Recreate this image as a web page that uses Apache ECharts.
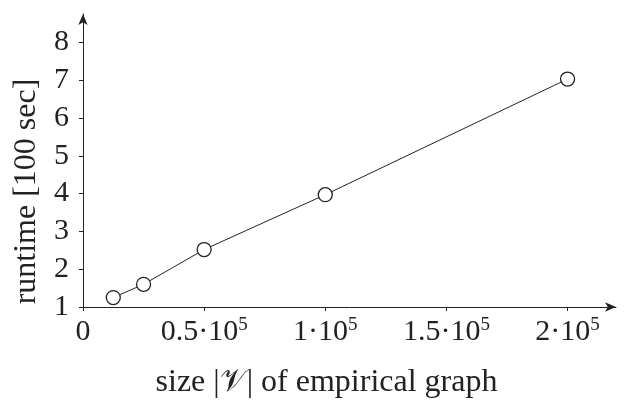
<!DOCTYPE html>
<html>
<head>
<meta charset="utf-8">
<script src="https://cdn.jsdelivr.net/npm/echarts@6/dist/echarts.min.js"></script>
<style>
  html, body { margin: 0; padding: 0; background: #fff; }
  #chart { width: 630px; height: 405px; }
</style>
</head>
<body>
<div id="chart"></div>
<script>
const sizes = [12500, 25000, 50000, 100000, 200000];
const runtimes = [1.25, 1.6, 2.52, 3.97, 7.03];
const xTicks = [0, 50000, 100000, 150000, 200000];
const yTicks = [1, 2, 3, 4, 5, 6, 7, 8];

const FONT = "Liberation Serif";
const INK = "#222";

const chart = echarts.init(document.getElementById("chart"));

function xLabel(v) {
  if (v === 0) return "{m|0}";
  const m = v / 100000;
  return "{m|" + m + "·10}{s|5}";
}

chart.setOption({
  animation: false,
  grid: { left: 83, right: 14, top: 14, bottom: 98 },
  xAxis: {
    type: "value",
    min: 0,
    max: 220000,
    name: "size |𝒱| of empirical graph",
    nameLocation: "middle",
    nameGap: 60,
    nameTextStyle: { fontFamily: FONT, fontSize: 32, color: INK, padding: [0, 46, 0, 0] },
    axisLine: { show: true, symbol: ["none", "arrow"], symbolSize: [7, 11], lineStyle: { color: INK, width: 1 } },
    axisTick: { show: true, length: 4, customValues: xTicks, lineStyle: { color: INK } },
    splitLine: { show: false },
    axisLabel: {
      customValues: xTicks,
      margin: 9,
      formatter: xLabel,
      rich: {
        m: { fontFamily: FONT, fontSize: 30, color: INK, lineHeight: 32 },
        s: { fontFamily: FONT, fontSize: 19, color: INK, verticalAlign: "top", lineHeight: 32 }
      }
    }
  },
  yAxis: {
    type: "value",
    min: 1,
    max: 8.75,
    name: "runtime [100 sec]",
    nameLocation: "middle",
    nameGap: 40,
    nameTextStyle: { fontFamily: FONT, fontSize: 32, color: INK, padding: [0, 62, 0, 0] },
    axisLine: { show: true, symbol: ["none", "arrow"], symbolSize: [7, 11], lineStyle: { color: INK, width: 1 } },
    axisTick: { show: true, length: 4, customValues: yTicks, lineStyle: { color: INK } },
    splitLine: { show: false },
    axisLabel: {
      customValues: yTicks,
      margin: 14,
      fontFamily: FONT,
      fontSize: 30,
      color: INK
    }
  },
  series: [{
    type: "line",
    data: sizes.map((s, i) => [s, runtimes[i]]),
    symbol: "circle",
    symbolSize: 14,
    showAllSymbol: true,
    lineStyle: { color: INK, width: 1 },
    itemStyle: { color: "#fff", borderColor: INK, borderWidth: 1.3 }
  }]
});
</script>
</body>
</html>
